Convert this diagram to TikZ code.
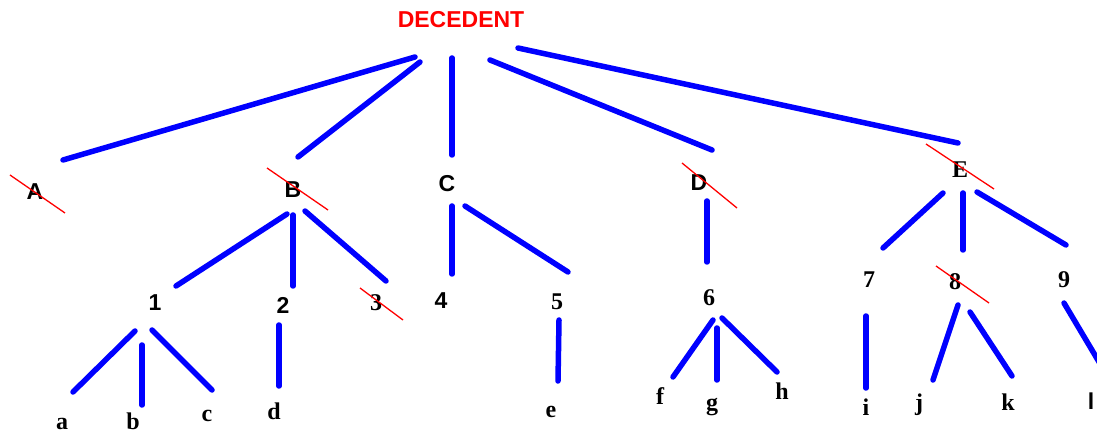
\documentclass[tikz,border=0pt]{standalone}
\usepackage{fontspec}
\setmainfont{Liberation Serif}
\setsansfont{Liberation Sans}
\begin{document}
\begin{tikzpicture}[x=1pt,y=-1pt,
  branch/.style={draw=blue,line width=5.5pt,line cap=round},
  strike/.style={draw=red,line width=1.3pt},
  sflab/.style={font=\fontsize{23}{23}\selectfont\sffamily\bfseries,inner sep=0pt},
  rmlab/.style={font=\fontsize{24}{24}\selectfont\rmfamily\bfseries,inner sep=0pt},
  title/.style={font=\fontsize{23}{23}\selectfont\sffamily\bfseries,text=red,inner sep=0pt}]
\useasboundingbox (0,0) rectangle (1097,435);

% labels
\node[title] (T) at (461,20) {DECEDENT};
\node[sflab] (A) at (35,192) {A};
\node[sflab] (B) at (293,190) {B};
\node[sflab] (C) at (447,184) {C};
\node[sflab] (D) at (699,183) {D};
\node[rmlab] (E) at (960,170) {E};
\node[sflab] (n1) at (155,303) {1};
\node[sflab] (n2) at (283,305) {2};
\node[rmlab] (n3) at (376,303) {3};
\node[sflab] (n4) at (441,301) {4};
\node[rmlab] (n5) at (557,302) {5};
\node[rmlab] (n6) at (709,298) {6};
\node[rmlab] (n7) at (869,280) {7};
\node[rmlab] (n8) at (955,282) {8};
\node[rmlab] (n9) at (1064,280) {9};
\node[rmlab,anchor=base] (la) at (62,429) {a};
\node[rmlab,anchor=base] (lb) at (133,429) {b};
\node[rmlab,anchor=base] (lc) at (207,421) {c};
\node[rmlab,anchor=base] (ld) at (274,419) {d};
\node[rmlab,anchor=base] (le) at (551,417) {e};
\node[rmlab,anchor=base] (lf) at (660,404) {f};
\node[rmlab,anchor=base] (lg) at (712,410) {g};
\node[rmlab,anchor=base] (lh) at (782,399) {h};
\node[rmlab,anchor=base] (li) at (866,415) {i};
\node[rmlab,anchor=base] (lj) at (919,410) {j};
\node[rmlab,anchor=base] (lk) at (1008,410) {k};
\node[sflab,anchor=base] (ll) at (1091,409) {l};

% branches of the tree
\foreach \n/\xa/\ya/\xb/\yb in {
  TA/415/57/63/160, TB/420/62/298/157, TC/452/58/452/155,
  TD/490/60/712/150, TE/518/48/958/143,
  B1/287/214/176/286, B2/293/215/293/286, B3/305/211/386/281,
  C4/452/206/452/274, C5/465/206/568/272,
  D6/707/201/707/262,
  E7/943/193/883/248, E8/963/193/963/250, E9/977/192/1066/245,
  1a/135/331/73/392, 1b/142/345/142/405, 1c/152/330/212/390,
  2d/279/325/279/386, 5e/559/320/558/381,
  6f/713/320/673/377, 6g/717/328/717/380, 6h/722/318/777/372,
  7i/866/316/866/388, 8j/958/305/933/380, 8k/970/312/1012/376,
  9l/1064/303/1105/372}
{
  \coordinate (\n-s) at (\xa,\ya);
  \coordinate (\n-t) at (\xb,\yb);
  \draw[branch] (\n-s) -- (\n-t);
}

% crossed-out entries
\foreach \n/\xa/\ya/\xb/\yb in {
  xA/10/175/65/213, xB/267/168/328/210, xD/682/163/737/208,
  xE/926/144/994/189, x3/360/288/403/320, x8/936/266/989/303}
{
  \coordinate (\n-s) at (\xa,\ya);
  \coordinate (\n-t) at (\xb,\yb);
  \draw[strike] (\n-s) -- (\n-t);
}
\end{tikzpicture}
\end{document}
